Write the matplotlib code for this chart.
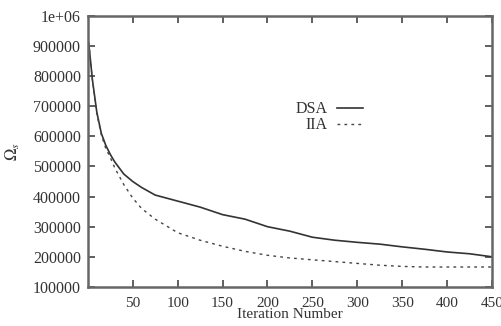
import matplotlib
matplotlib.use("Agg")
import matplotlib.pyplot as plt
from matplotlib.ticker import FixedLocator, FuncFormatter

# iteration numbers and objective values
iters = [1, 5, 10, 15, 20, 25, 30, 40, 50, 60, 75, 100, 125, 150, 175, 200,
         225, 250, 275, 300, 325, 350, 375, 400, 425, 450]
dsa = [910000, 790000, 680000, 610000, 570000, 540000, 515000, 475000, 450000,
       430000, 405000, 385000, 365000, 340000, 325000, 300000, 285000, 265000,
       255000, 248000, 242000, 233000, 225000, 216000, 210000, 200000]
iia = [910000, 790000, 675000, 605000, 560000, 530000, 495000, 440000, 395000,
       360000, 325000, 280000, 255000, 235000, 218000, 205000, 196000, 190000,
       184000, 178000, 172000, 168000, 166000, 166000, 166000, 166000]

xticks = [50, 100, 150, 200, 250, 300, 350, 400, 450]
yticks = [100000, 200000, 300000, 400000, 500000, 600000, 700000, 800000,
          900000, 1000000]

plt.rcParams['font.family'] = ['Liberation Serif', 'DejaVu Serif']
plt.rcParams['mathtext.fontset'] = 'stix'

fig = plt.figure(figsize=(5.02, 3.26), dpi=100)
ax = fig.add_axes([0.175, 0.12, 0.805, 0.831])

ax.plot(iters, dsa, color='#333333', lw=1.2, label='DSA')
ax.plot(iters, iia, color='#444444', lw=1.0, linestyle=(0, (2, 3)), label='IIA')

ax.set_xlim(0, 450)
ax.set_ylim(100000, 1000000)
ax.xaxis.set_major_locator(FixedLocator(xticks))
ax.yaxis.set_major_locator(FixedLocator(yticks))
ax.yaxis.set_major_formatter(FuncFormatter(
    lambda v, p: '1e+06' if v >= 1000000 else '%d' % v))

ax.tick_params(direction='in', top=True, right=True, length=5, width=1.2,
               color='#444444', labelsize=11.5, labelcolor='#333333')
ax.tick_params(axis='y', pad=5)
ax.tick_params(axis='x', pad=7, labelsize=11)
for s in ax.spines.values():
    s.set_linewidth(1.8)
    s.set_color('#666666')

ax.set_xlabel('Iteration Number', fontsize=11, color='#333333', labelpad=-1)
ax.set_ylabel(r'$\Omega_s$', fontsize=12, color='#333333', labelpad=8)

ax.legend(loc='upper right', bbox_to_anchor=(0.70, 0.715), frameon=False,
          markerfirst=False, fontsize=11.5, handlelength=1.6, labelspacing=0.0,
          borderpad=0, handletextpad=0.6, labelcolor='#333333')

fig.savefig('out.png', dpi=100)
